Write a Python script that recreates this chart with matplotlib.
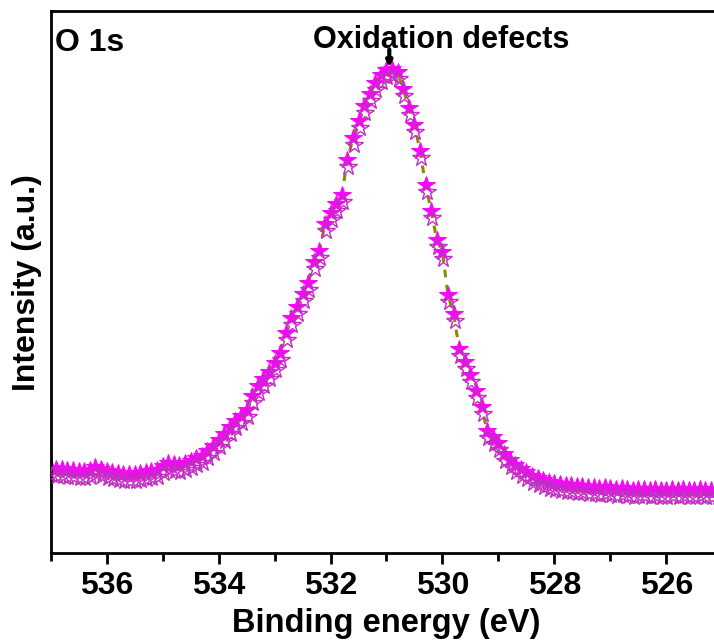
import numpy as np
import matplotlib
matplotlib.use('Agg')
from matplotlib import pyplot as plt
from matplotlib import transforms

plt.rcParams['font.family'] = ['Liberation Sans', 'DejaVu Sans']
plt.rcParams['font.weight'] = 'bold'

# binding energy grid (eV), 0.1 eV steps from 537.0 down to 525.0
energy = np.linspace(537.0, 525.0, 121)

# O 1s intensity (a.u.)
intensity = [
    85, 84, 84, 83, 83, 82, 82, 83, 86, 84,
    82, 81, 80, 79, 79, 79, 80, 81, 82, 83,
    87, 90, 89, 88, 90, 92, 95, 97, 102, 107,
    113, 119, 126, 132, 137, 143, 157, 167, 174, 181,
    190, 200, 220, 235, 246, 259, 270, 291, 302, 329,
    340, 349, 358, 393, 415, 432, 447, 459, 470, 478,
    483, 484, 481, 464, 445, 428, 402, 368, 342, 313,
    301, 258, 239, 204, 191, 178, 162, 146, 122, 116,
    110, 99, 93, 88, 84, 81, 77, 75, 73, 71,
    70, 69, 68, 68, 67, 67, 66, 66, 65, 66,
    65, 64, 65, 64, 63, 64, 64, 63, 64, 63,
    63, 64, 63, 64, 63, 63, 64, 63, 63, 63,
    63,
]

x_ticks = [536, 534, 532, 530, 528, 526]
peak_pos = 530.95  # oxidation defects peak

fig = plt.figure(figsize=(7.14, 6.41), dpi=100)
ax = fig.add_axes([0.071, 0.1368, 0.9406, 0.8453])

# fitted component (dashed olive), mostly hidden under the markers
ax.plot(energy, intensity, color='#8a8a00', lw=2.2, ls=(0, (2.5, 2.5)), zorder=1)

# raw data: filled stars
ax.plot(energy, intensity, ls='none', marker='*', ms=13,
        mfc='#ff00ff', mec='#f010f0', mew=0.8, zorder=2)

# open-star envelope drawn just below the data
shadow = transforms.offset_copy(ax.transData, fig=fig, x=1, y=-7, units='dots')
ax.plot(energy, intensity, ls='none', marker='*', ms=13,
        mfc='none', mec='#c030c0', mew=1.0, transform=shadow, zorder=3)

ax.set_xlim(537, 525)
ax.set_ylim(0, 541.8)
ax.set_xticks(x_ticks)
ax.set_xticks(np.arange(537, 524.9, -1), minor=True)
ax.set_yticks([])
ax.tick_params(axis='x', which='major', direction='out', length=8, width=2,
               labelsize=23, pad=5)
ax.tick_params(axis='x', which='minor', direction='out', length=6, width=2)
for lab in ax.get_xticklabels():
    lab.set_fontweight('bold')
for side in ['left', 'bottom', 'top', 'right']:
    ax.spines[side].set_linewidth(2)

ax.set_xlabel('Binding energy (eV)', fontsize=23.5, fontweight='bold', labelpad=5)
ax.set_ylabel('Intensity (a.u.)', fontsize=23, fontweight='bold', labelpad=6)

ax.text(0.007, 0.97, 'O 1s', transform=ax.transAxes, fontsize=23,
        fontweight='bold', va='top', ha='left')
ax.text(530.03, 505, 'Oxidation defects', fontsize=22, fontweight='bold',
        ha='center', va='baseline')
ax.annotate('', xy=(peak_pos, 486), xytext=(peak_pos, 504),
            arrowprops=dict(arrowstyle='-|>', color='k', lw=3, mutation_scale=8,
                            shrinkA=0, shrinkB=0))

plt.savefig('out.png', dpi=100)
